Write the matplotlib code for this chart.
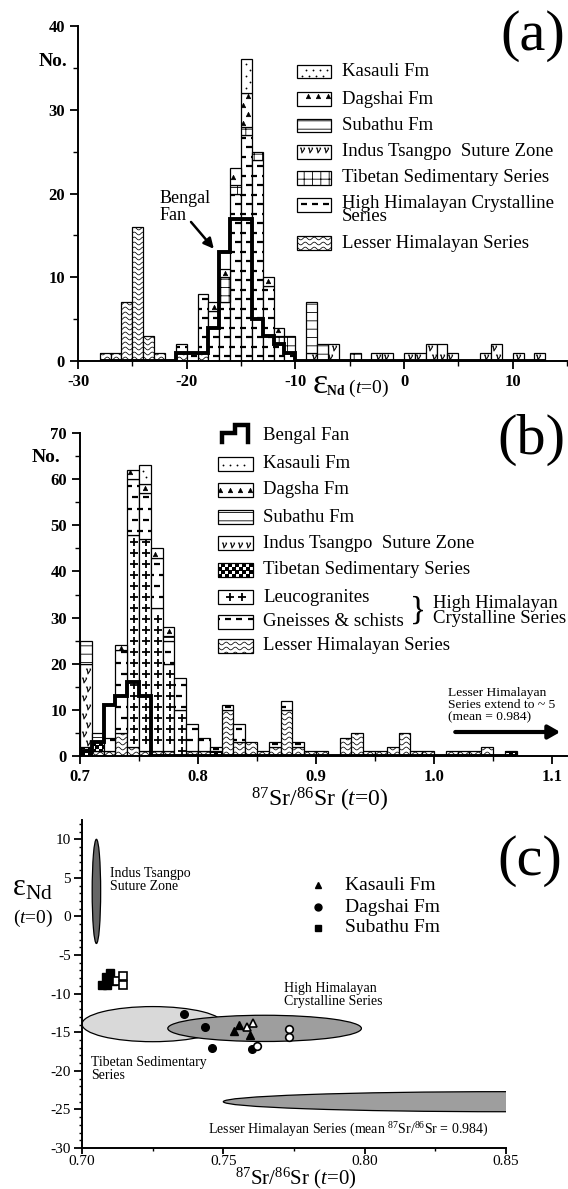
import numpy as np
import matplotlib
matplotlib.use('Agg')
import matplotlib.pyplot as plt
from matplotlib.patches import Rectangle, Ellipse
from matplotlib.ticker import MultipleLocator

plt.rcParams['font.family'] = ['Liberation Serif', 'DejaVu Serif']
plt.rcParams['mathtext.fontset'] = 'custom'
plt.rcParams['mathtext.rm'] = 'Liberation Serif'
plt.rcParams['mathtext.it'] = 'Liberation Serif:italic'
plt.rcParams['mathtext.bf'] = 'Liberation Serif:bold'
plt.rcParams['axes.unicode_minus'] = False
plt.rcParams['hatch.linewidth'] = 0.6

W, H = 568, 1189

# ---------------- (a) eNd histogram, bins of 1 unit, left edges -28 .. 12
a_edges = np.arange(-28, 13)
#        -28 .. -19                      -18 .. -9                         -8 .. 1                  2 .. 11             12
a_lh   = [1, 1, 7, 16, 3, 1, 0, 1, 0, 1] + [0] * 10 + [0] * 10 + [0] * 10 + [0]
a_hhc  = [0, 0, 0, 0, 0, 0, 0, 1, 1, 7] + [6, 7, 20, 27, 24, 9, 2, 1, 0, 0] + [0] * 10 + [0] * 10 + [0]
a_tss  = [0] * 10 + [0, 3, 1, 1, 1, 0, 1, 2, 0, 0] + [0, 0, 0, 1, 0, 0, 0, 0, 0, 0] + [0] * 10 + [0]
a_itsz = [0] * 10 + [0, 0, 0, 0, 0, 0, 0, 0, 0, 1] + [0, 2, 0, 0, 0, 1, 1, 0, 1, 1] + [2, 2, 1, 0, 0, 1, 2, 0, 1, 0] + [1]
a_sub  = [0] * 10 + [0, 0, 0, 0, 0, 0, 0, 0, 0, 6] + [2, 0, 0, 0, 0, 0, 0, 0, 0, 0] + [0] * 10 + [0]
a_dag  = [0] * 10 + [1, 1, 2, 4, 0, 1, 1, 0, 0, 0] + [0] * 10 + [0] * 10 + [0]
a_kas  = [0] * 10 + [0, 0, 0, 4, 0, 0, 0, 0, 0, 0] + [0] * 10 + [0] * 10 + [0]
a_bf   = [0, 0, 0, 0, 0, 0, 0, 1, 1, 1] + [4, 13, 17, 17, 5, 3, 2, 1, 0, 0] + [0] * 10 + [0] * 10 + [0]

# ---------------- (b) 87Sr/86Sr histogram, bins of 0.01, left edges 0.70 .. 1.06
b_edges = np.round(0.70 + 0.01 * np.arange(37), 2)
#        0.70 .. 0.79                        0.80 .. 0.89                    0.90 .. 0.99                1.00 .. 1.06
b_lh   = [0, 1, 1, 5, 2, 1, 1, 1, 0, 1] + [1, 0, 10, 3, 3, 1, 2, 10, 2, 1] + [1, 0, 4, 5, 1, 1, 2, 5, 1, 1] + [0, 1, 1, 1, 2, 0, 0]
b_tss  = [2, 2, 0, 0, 0, 0, 0, 0, 0, 0] + [0, 1, 0, 0, 0, 0, 0, 0, 0, 0] + [0] * 10 + [0, 0, 0, 0, 0, 0, 1]
b_leu  = [0, 0, 0, 0, 46, 46, 31, 19, 10, 0] + [0] * 10 + [0] * 10 + [0] * 7
b_gn   = [0, 0, 3, 18, 12, 10, 11, 5, 7, 6] + [3, 1, 1, 4, 0, 0, 1, 2, 1, 0] + [0] * 10 + [0] * 7
b_itsz = [18, 0, 0, 0, 0, 0, 0, 0, 0, 0] + [0] * 10 + [0] * 10 + [0] * 7
b_sub  = [5, 2, 0, 0, 0, 0, 0, 1, 0, 0] + [0] * 10 + [0] * 10 + [0] * 7
b_dag  = [0, 0, 0, 1, 2, 2, 2, 2, 0, 0] + [0] * 10 + [0] * 10 + [0] * 7
b_kas  = [0, 0, 0, 0, 0, 4, 0, 0, 0, 0] + [0] * 10 + [0] * 10 + [0] * 7
b_bf   = [1, 3, 11, 13, 16, 13, 0, 0, 0, 0] + [0] * 10 + [0] * 10 + [0] * 7

# ---------------- (c) eNd vs 87Sr/86Sr
c_kas_x, c_kas_y = [0.7538, 0.7557, 0.7594], [-14.8, -14.1, -15.4]
c_kas_ox, c_kas_oy = [0.7582, 0.7606], [-14.3, -13.8]
c_dag_x, c_dag_y = [0.7362, 0.7435, 0.7461, 0.7603], [-12.65, -14.3, -17.1, -17.2]
c_dag_ox, c_dag_oy = [0.7618, 0.7733, 0.7733], [-16.8, -14.6, -15.6]
c_sub_x, c_sub_y = [0.7099, 0.7085, 0.7070, 0.7089, 0.7111], [-7.3, -7.8, -8.9, -8.9, -8.3]
c_sub_ox, c_sub_oy = [0.7125, 0.7144, 0.7144], [-8.3, -7.7, -8.9]
# fields: centre x, centre y, width, height, grey
field_names = ['Indus', 'Tibetan', 'HHC', 'LH']
field_cx = [0.7051, 0.7250, 0.7646, 0.8500]
field_cy = [3.25, -13.95, -14.5, -24.0]
field_w = [0.0030, 0.0500, 0.0685, 0.2000]
field_h = [13.5, 4.55, 3.4, 2.6]
field_grey = ['0.40', '0.85', '0.62', '0.62']

fig = plt.figure(figsize=(W / 100, H / 100), dpi=100)


def axes_px(left, right, top, bottom):
    return fig.add_axes([left / W, 1 - bottom / H, (right - left) / W, (bottom - top) / H])


def scale(ax):
    pos = ax.get_position()
    x0, x1 = ax.get_xlim()
    y0, y1 = ax.get_ylim()
    return pos.width * W / (x1 - x0), pos.height * H / (y1 - y0)


def px2data(ax, px, py):
    pos = ax.get_position()
    x0, x1 = ax.get_xlim()
    y0, y1 = ax.get_ylim()
    fx = (px / W - pos.x0) / pos.width
    fy = ((1 - py / H) - pos.y0) / pos.height
    return x0 + fx * (x1 - x0), y0 + fy * (y1 - y0)


PAT = {
    'kas': dict(marker='.', ms=1.6, mew=0.5, dx=7, dy=6, stag=True, clip=False),
    'dag': dict(marker='^', ms=3.2, mew=0.5, dx=10, dy=9, stag=True, clip=False),
    'itsz': dict(marker='$v$', ms=3.8, mew=0.3, dx=8, dy=9, stag=True, clip=False),
    'leu': dict(marker='+', ms=6, mew=1.3, dx=12, dy=11, stag=False, clip=False),
    'hhc': dict(marker='_', ms=5, mew=1.6, dx=11, dy=9.5, stag=True, clip=True),
    'gn': dict(marker='_', ms=5, mew=1.6, dx=11, dy=11, stag=True, clip=True),
    'tssb': dict(marker='s', ms=2.5, mew=0, dx=7, dy=3.5, stag=True, clip=True),
}
HATCH = {'sub': '--', 'tssa': '++'}


def block(ax, x0, x1, y0, y1, kind):
    rect = Rectangle((x0, y0), x1 - x0, y1 - y0, facecolor='white', edgecolor='k',
                     lw=0.9, hatch=HATCH.get(kind), zorder=2)
    ax.add_patch(rect)
    kx, ky = scale(ax)
    xm, ym = ax.get_xlim()[0], ax.get_ylim()[0]
    X0, X1 = (x0 - xm) * kx, (x1 - xm) * kx
    Y0, Y1 = (y0 - ym) * ky, (y1 - ym) * ky
    if kind == 'lh':
        dy = 5.0
        for r in range(int(np.floor(Y0 / dy)), int(np.ceil(Y1 / dy)) + 1):
            X = np.linspace(X0, X1, 40)
            Y = (r + 0.5) * dy + 1.4 * np.sin(2 * np.pi * X / 9.0)
            ln, = ax.plot(xm + X / kx, ym + Y / ky, color='k', lw=0.55, zorder=3)
            ln.set_clip_path(rect)
        return
    if kind not in PAT:
        return
    p = PAT[kind]
    m = 1.0 if p['clip'] else 2.0
    pts = []
    for r in range(int(np.floor(Y0 / p['dy'])) - 1, int(np.ceil(Y1 / p['dy'])) + 1):
        Y = (r + 0.5) * p['dy']
        if not (Y0 + m <= Y <= Y1 - m) and kind != 'tssb':
            continue
        off = (r % 2) * p['dx'] / 2 if p['stag'] else 0
        for c in range(int(np.floor((X0 - off) / p['dx'])) - 1, int(np.ceil((X1 - off) / p['dx'])) + 1):
            X = (c + 0.5) * p['dx'] + off
            if p['clip'] or (X0 + m <= X <= X1 - m):
                pts.append((X, Y))
    if not pts and (Y1 - Y0) >= 3:
        pts = [((X0 + X1) / 2, (Y0 + Y1) / 2)]
    if not pts:
        return
    pts = np.array(pts)
    ln, = ax.plot(xm + pts[:, 0] / kx, ym + pts[:, 1] / ky, ls='none', marker=p['marker'],
                  ms=p['ms'], mew=p['mew'], color='k', zorder=3)
    ln.set_clip_path(rect)


def stack(ax, edges, width, layers):
    bottom = np.zeros(len(edges))
    for counts, kind in layers:
        for e, b, n in zip(edges, bottom, counts):
            if n > 0:
                block(ax, e, e + width, b, b + n, kind)
        bottom = bottom + np.array(counts)


def legend_box(ax, px, py, kind, w, h):
    x0, y0 = px2data(ax, px, py + h / 2)
    x1, y1 = px2data(ax, px + w, py - h / 2)
    block(ax, x0, x1, y0, y1, kind)


def style(ax, size=12, pad=3.5):
    for s in ['top', 'right']:
        ax.spines[s].set_visible(False)
    for s in ['left', 'bottom']:
        ax.spines[s].set_linewidth(1.4)
    ax.tick_params(which='major', direction='out', length=6, width=1.3, labelsize=size, pad=pad)
    ax.tick_params(which='minor', direction='out', length=3.5, width=1.0)


# ======================= (a)
ax1 = axes_px(78, 567, 26, 361)
ax1.set_xlim(-30, 15)
ax1.set_ylim(0, 40)
style(ax1)
ax1.xaxis.set_minor_locator(MultipleLocator(5))
ax1.yaxis.set_minor_locator(MultipleLocator(5))
a_xt = [-30, -20, -10, 0, 10]
a_yt = [0, 10, 20, 30, 40]
ax1.set_xticks(a_xt, [str(t) for t in a_xt], fontweight='bold')
ax1.set_yticks(a_yt, [str(t) for t in a_yt], fontweight='bold')

stack(ax1, a_edges, 1, [(a_lh, 'lh'), (a_hhc, 'hhc'), (a_tss, 'tssa'), (a_itsz, 'itsz'),
                        (a_sub, 'sub'), (a_dag, 'dag'), (a_kas, 'kas')])
ax1.stairs(a_bf, np.append(a_edges, a_edges[-1] + 1), baseline=0, color='k', lw=2.8, zorder=5)

ax1.text(-22.5, 18.4, 'Bengal\nFan', fontsize=13, ha='left', va='center', linespacing=0.95)
ax1.annotate('', xy=(-17.5, 13.4), xytext=(-19.6, 16.6),
             arrowprops=dict(arrowstyle='-|>,head_length=0.6,head_width=0.3', lw=1.8,
                             color='k', shrinkA=0, shrinkB=0))

a_leg = [(72, 'kas', 'Kasauli Fm'), (99, 'dag', 'Dagshai Fm'), (125, 'sub', 'Subathu Fm'),
         (152, 'itsz', 'Indus Tsangpo  Suture Zone'), (178, 'tssa', 'Tibetan Sedimentary Series'),
         (205, 'hhc', 'High Himalayan Crystalline\nSeries'), (243, 'lh', 'Lesser Himalayan Series')]
for py, kind, lab in a_leg:
    legend_box(ax1, 297, py, kind, 34, 13)
    ty = py + 5 if '\n' in lab else py
    fig.text(342 / W, 1 - ty / H, lab, fontsize=13.5, va='center', ha='left', linespacing=0.72)

fig.text(53 / W, 1 - 61 / H, 'No.', fontsize=14, fontweight='bold', ha='center', va='center')
fig.text(533 / W, 1 - 36 / H, '(a)', fontsize=42, ha='center', va='center')
fig.text(313 / W, 1 - 393 / H, 'ε', fontsize=26, ha='left', va='baseline')
fig.text(326 / W, 1 - 393 / H, r'$_{\mathbf{Nd}}$ ($t$=0)', fontsize=14, ha='left', va='baseline')

# ======================= (b)
ax2 = axes_px(80, 567, 433, 756)
ax2.set_xlim(0.7, 1.1127)
ax2.set_ylim(0, 70)
style(ax2)
ax2.xaxis.set_minor_locator(MultipleLocator(0.05))
ax2.yaxis.set_minor_locator(MultipleLocator(5))
b_xt = [0.7, 0.8, 0.9, 1.0, 1.1]
b_yt = [0, 10, 20, 30, 40, 50, 60, 70]
ax2.set_xticks(b_xt, ['%.1f' % t for t in b_xt], fontweight='bold')
ax2.set_yticks(b_yt, [str(t) for t in b_yt], fontweight='bold')

stack(ax2, b_edges, 0.01, [(b_lh, 'lh'), (b_tss, 'tssb'), (b_leu, 'leu'), (b_gn, 'gn'),
                           (b_itsz, 'itsz'), (b_sub, 'sub'), (b_dag, 'dag'), (b_kas, 'kas')])
ax2.stairs(b_bf, np.append(b_edges, 1.07), baseline=0, color='k', lw=2.8, zorder=5)

# Bengal Fan legend symbol
bx = [222, 222, 235, 235, 248, 248]
by = [442, 433, 433, 425, 425, 442]
ax2.plot([b / W for b in bx], [1 - b / H for b in by], color='k', lw=3.2,
         transform=fig.transFigure, clip_on=False, solid_joinstyle='miter')
fig.text(263 / W, 1 - 435 / H, 'Bengal Fan', fontsize=13.5, va='center')
b_leg = [(464, 'kas', 'Kasauli Fm'), (490, 'dag', 'Dagsha Fm'), (517, 'sub', 'Subathu Fm'),
         (543, 'itsz', 'Indus Tsangpo  Suture Zone'), (570, 'tssb', 'Tibetan Sedimentary Series'),
         (597, 'leu', 'Leucogranites'), (622, 'gn', 'Gneisses & schists'),
         (646, 'lh', 'Lesser Himalayan Series')]
for py, kind, lab in b_leg:
    legend_box(ax2, 218, py, kind, 35, 14)
    fig.text(263 / W, 1 - py / H, lab, fontsize=13.5, va='center', ha='left')
fig.text(418 / W, 1 - 611 / H, '}', fontsize=24, ha='center', va='center')
fig.text(433 / W, 1 - 611 / H, 'High Himalayan\nCrystalline Series', fontsize=13.5,
         va='center', ha='left', linespacing=0.8)

ax2.text(1.012, 11, 'Lesser Himalayan\nSeries extend to ~ 5\n(mean = 0.984)', fontsize=9.7,
         ha='left', va='center', linespacing=1.0)
ax2.annotate('', xy=(1.107, 5.2), xytext=(1.018, 5.2),
             arrowprops=dict(arrowstyle='-|>,head_length=0.7,head_width=0.4', lw=3,
                             color='k', shrinkA=0, shrinkB=0))
fig.text(531 / W, 1 - 440 / H, '(b)', fontsize=42, ha='center', va='center')
fig.text(32 / W, 1 - 458 / H, 'No.', fontsize=14, fontweight='bold', ha='left', va='center')
fig.text(320 / W, 1 - 800 / H, r'$^{87}$Sr/$^{86}$Sr ($t$=0)', fontsize=17, ha='center', va='center')

# ======================= (c)
ax3 = axes_px(82, 506, 820, 1148)
ax3.set_xlim(0.70, 0.85)
ax3.set_ylim(-30, 12.5)
style(ax3, size=11, pad=1)
ax3.xaxis.set_minor_locator(MultipleLocator(0.025))
ax3.yaxis.set_minor_locator(MultipleLocator(1))
c_xt = [0.70, 0.75, 0.80, 0.85]
c_yt = [-30, -25, -20, -15, -10, -5, 0, 5, 10]
ax3.set_xticks(c_xt, ['%.2f' % t for t in c_xt])
ax3.set_yticks(c_yt, [str(t) for t in c_yt])
ax3.tick_params(which='minor', length=2.5)
ax3.tick_params(axis='x', which='major', length=4)
ax3.tick_params(axis='y', which='major', pad=2)

for i, name in enumerate(field_names):
    e = Ellipse((field_cx[i], field_cy[i]), field_w[i], field_h[i], facecolor=field_grey[i],
                edgecolor='k', lw=0.9, zorder=1 + i)
    ax3.add_patch(e)

ax3.plot(c_sub_x, c_sub_y, 's', color='k', ms=5.5, zorder=6)
ax3.plot(c_sub_ox, c_sub_oy, 's', mfc='white', mec='k', mew=1.2, ms=5.5, zorder=6)
ax3.plot(c_dag_x, c_dag_y, 'o', color='k', ms=5.5, zorder=6)
ax3.plot(c_dag_ox, c_dag_oy, 'o', mfc='white', mec='k', mew=1.2, ms=5.5, zorder=6)
ax3.plot(c_kas_x, c_kas_y, '^', color='k', ms=6, zorder=6)
ax3.plot(c_kas_ox, c_kas_oy, '^', mfc='white', mec='k', mew=1.2, ms=6, zorder=6)

ax3.text(0.7099, 4.7, 'Indus Tsangpo\nSuture Zone', fontsize=10, va='center', ha='left', linespacing=1.0)
ax3.text(0.7032, -19.8, 'Tibetan Sedimentary\nSeries', fontsize=10, va='center', ha='left', linespacing=1.0)
ax3.text(0.7715, -10.2, 'High Himalayan\nCrystalline Series', fontsize=10, va='center', ha='left', linespacing=1.0)
ax3.text(0.7446, -27.7, r'Lesser Himalayan Series (mean $^{87}$Sr/$^{86}$Sr = 0.984)', fontsize=10,
         va='center', ha='left')

c_leg = [(885, '^', 'Kasauli Fm'), (907, 'o', 'Dagshai Fm'), (928, 's', 'Subathu Fm')]
for py, mk, lab in c_leg:
    ax3.plot([318 / W], [1 - py / H], mk, color='k', ms=5, transform=fig.transFigure, clip_on=False)
    fig.text(345 / W, 1 - py / H, lab, fontsize=14, va='center', ha='left')

fig.text(530 / W, 1 - 861 / H, '(c)', fontsize=42, ha='center', va='center')
fig.text(12 / W, 1 - 888 / H, r'ε$_{\mathrm{Nd}}$', fontsize=22, ha='left', va='center')
fig.text(33 / W, 1 - 918 / H, r'($t$=0)', fontsize=14, ha='center', va='center')
fig.text(296 / W, 1 - 1184 / H, r'$^{87}$Sr/$^{86}$Sr ($t$=0)', fontsize=15, ha='center', va='baseline')

fig.savefig('out.png', dpi=100)
